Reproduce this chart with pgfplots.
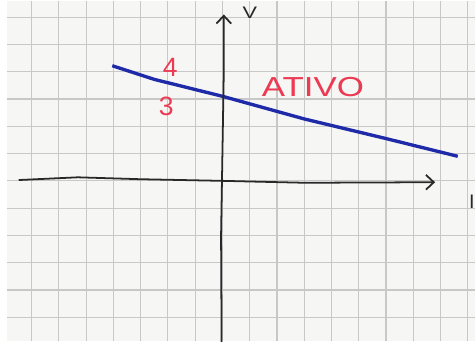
\documentclass[border=0pt]{standalone}
\usepackage{pgfplots}
\pgfplotsset{compat=1.18}
\usepackage{fontspec}
\setmainfont{Liberation Sans}
\usetikzlibrary{arrows.meta}
\definecolor{paper}{RGB}{246,246,244}
\definecolor{gridgray}{RGB}{200,200,200}
\definecolor{inkblue}{RGB}{30,42,168}
\definecolor{inkred}{RGB}{236,58,82}
\definecolor{ink}{RGB}{40,40,40}
\begin{document}
\begin{tikzpicture}
\begin{axis}[
  scale only axis, width=476bp, height=346bp,
  xmin=-7.91, xmax=9.28, ymin=-5.88, ymax=6.61,
  axis line style={draw=none},
  axis background/.style={fill=paper},
  xtick={-7,...,9}, ytick={-5,...,6},
  xticklabels={}, yticklabels={},
  major tick length=0pt,
  grid=major,
  major grid style={gridgray, line width=1.1bp},
  clip=false,
]
% current-voltage characteristic
\addplot[inkblue, line width=3.4bp] coordinates {(-4.04,4.22) (-2.5,3.72) (0,3.10) (3,2.27) (6,1.55) (8.63,0.90)};
% I axis
\addplot[ink, line width=1.8bp, -{Straight Barb[length=8bp,width=15bp]}] coordinates {(-7.47,0.03) (-5.3,0.13) (-3,0.06) (0,0) (3,-0.07) (7.8,-0.05)};
% V axis
\addplot[ink, line width=1.8bp, -{Straight Barb[length=8bp,width=15bp]}] coordinates {(-0.03,-5.9) (-0.05,-2) (0,1) (0.05,4) (0.05,6.1)};
\node[ink, font=\fontsize{17}{17}\selectfont, xscale=1.3] at (axis cs:1.01,6.17) {V};
\node[ink, font=\fontsize{20}{20}\selectfont, overlay] at (axis cs:9.15,-0.76) {I};
\node[inkred, font=\fontsize{27}{27}\selectfont] at (axis cs:-1.91,4.15) {4};
\node[inkred, font=\fontsize{27}{27}\selectfont] at (axis cs:-2.06,2.74) {3};
\node[inkred, font=\fontsize{28}{28}\selectfont, xscale=1.27] at (axis cs:3.32,3.43) {ATIVO};
\end{axis}
\end{tikzpicture}
\end{document}
